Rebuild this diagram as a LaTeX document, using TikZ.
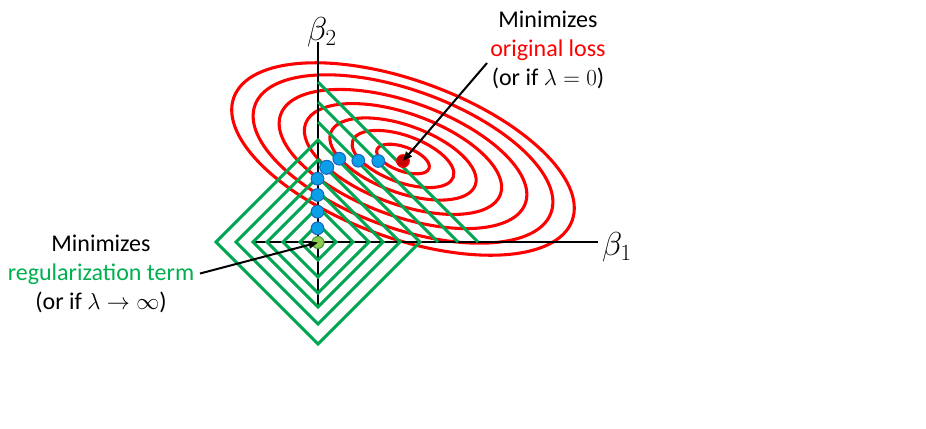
\documentclass[tikz,border=0pt]{standalone}
\usepackage{fontspec}
\setmainfont{Carlito}
\usetikzlibrary{arrows.meta}
\definecolor{lossred}{RGB}{255,0,0}
\definecolor{regline}{RGB}{0,166,81}
\definecolor{regtext}{RGB}{0,176,80}
\definecolor{dotblue}{RGB}{10,160,232}
\definecolor{dotblueedge}{RGB}{30,100,190}
\definecolor{dotgreen}{RGB}{140,205,80}
\definecolor{dotgreenedge}{RGB}{60,150,60}
\definecolor{dotred}{RGB}{200,0,0}
\begin{document}
\begin{tikzpicture}[x=0.75pt,y=-0.75pt,
  axisline/.style={line width=1.8pt, black},
  contour/.style={line width=2.3pt, lossred},
  diamondline/.style={line width=2.3pt, regline, line join=miter},
  bdot/.style={circle, fill=dotblue, draw=dotblueedge, line width=0.8pt, minimum size=9.5pt, inner sep=0pt},
  gdot/.style={circle, fill=dotgreen, draw=dotgreenedge, line width=0.8pt, minimum size=9pt, inner sep=0pt},
  rdot/.style={circle, fill=dotred, draw=lossred, line width=0.8pt, minimum size=9.5pt, inner sep=0pt},
  textlabel/.style={align=center, font=\fontsize{18}{21.75}\selectfont, inner sep=0pt},
  axislabel/.style={font=\fontsize{24}{28}\selectfont, inner sep=0pt},
  pointer/.style={line width=1.5pt, black, -{Triangle[length=7pt,width=5.5pt]}}
]
\useasboundingbox (0,0) rectangle (926,429);
% loss contours
\foreach \s in {1,0.875,0.723,0.576,0.427,0.297,0.154}
  \draw[contour, rotate around={-20:(403,159)}] (403,159) ellipse [x radius=180*\s, y radius=78.7*\s];
% axes
\draw[axisline] (253,242) -- (598,242);
\draw[axisline] (318,42) -- (318,305);
% regularization contours
\foreach \d in {18,35,51,65,82,102}
  \draw[diamondline] (318-\d,242) -- (318,242-\d) -- (318+\d,242) -- (318,242+\d) -- cycle;
\foreach \d in {120,140,160}
  \draw[diamondline] (318,242-\d) -- (318+\d,242);
% axis labels
\node[axislabel] (beta2) at (322,32) {$\beta_2$};
\node[axislabel] (beta1) at (617,247) {$\beta_1$};
% solution path
\node[rdot] (rmin) at (403,161) {};
\node[bdot] (p1) at (378.3,161) {};
\node[bdot] (p2) at (358.3,160.7) {};
\node[bdot] (p3) at (339.3,158.7) {};
\node[bdot, minimum size=10.5pt] (p4) at (326.7,167.3) {};
\node[bdot] (p5) at (317.5,178.7) {};
\node[bdot] (p6) at (317.5,195) {};
\node[bdot] (p7) at (317.5,211.7) {};
\node[bdot] (p8) at (317.5,228.3) {};
\node[gdot] (gmin) at (318,242.5) {};
% labels
\node[textlabel] (losslab) at (548,49.5) {Minimizes\\{\color{lossred}original loss}\\(or if $\lambda = 0$)};
\node[textlabel] (reglab) at (101,274) {Minimizes\\{\color{regtext}regularization term}\\(or if $\lambda \to \infty$)};
% pointers
\coordinate (losstail) at (487,63);
\coordinate (regtail) at (200,273.5);
\draw[pointer] (losstail) -- (rmin.center);
\draw[pointer] (regtail) -- (gmin.center);
\end{tikzpicture}
\end{document}
